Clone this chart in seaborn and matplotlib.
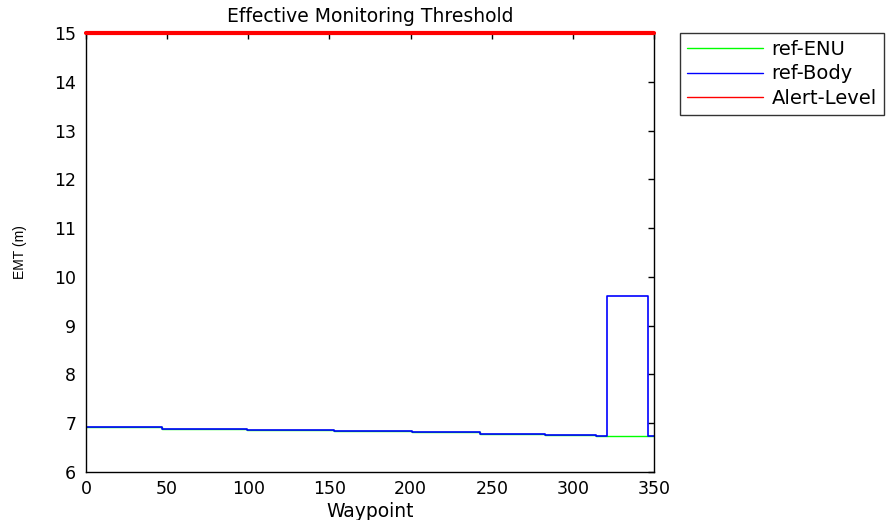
import numpy as np
import pandas as pd
import seaborn as sns
import matplotlib.pyplot as plt
from matplotlib.lines import Line2D

# step edges (waypoint) and EMT levels
edges_enu = [0, 47, 99, 153, 201, 243, 283, 314, 321, 350]
levels_enu = [6.91, 6.88, 6.855, 6.83, 6.81, 6.78, 6.76, 6.735, 6.735, 6.735]
edges_body = [0, 47, 99, 153, 201, 243, 283, 314, 321, 346, 350]
levels_body = [6.91, 6.88, 6.855, 6.83, 6.81, 6.78, 6.76, 6.735, 9.61, 6.735, 6.735]
alert_x = [0, 350]
alert_y = [15, 15]

enu = pd.DataFrame({'wp': edges_enu, 'emt': levels_enu})
body = pd.DataFrame({'wp': edges_body, 'emt': levels_body})
alert = pd.DataFrame({'wp': alert_x, 'emt': alert_y})

sns.set_style('white')
plt.rcParams['font.family'] = ['DejaVu Sans']
plt.rcParams['text.color'] = 'black'
plt.rcParams['axes.labelcolor'] = 'black'

fig = plt.figure(figsize=(8.96, 5.2), dpi=100)
ax = fig.add_axes([0.096, 0.093, 0.634, 0.843])

sns.lineplot(data=enu, x='wp', y='emt', ax=ax, color='#00ff00', lw=1,
             drawstyle='steps-post', estimator=None)
sns.lineplot(data=body, x='wp', y='emt', ax=ax, color='#0000ff', lw=1.2,
             drawstyle='steps-post', estimator=None)
sns.lineplot(data=alert, x='wp', y='emt', ax=ax, color='#ff0000', lw=3,
             estimator=None, clip_on=False, zorder=5)

ax.set_xlim(0, 350)
ax.set_ylim(6, 15)
ax.set_xticks(np.arange(0, 351, 50))
ax.set_yticks(np.arange(6, 16, 1))
ax.tick_params(direction='in', top=True, right=True, length=4, width=1,
               labelsize=12.5, colors='black')
ax.tick_params(axis='y', pad=7)
ax.tick_params(axis='x', pad=6)
for s in ax.spines.values():
    s.set_color('black')
    s.set_linewidth(1)
ax.set_title('Effective Monitoring Threshold', fontsize=13.5, pad=8)
ax.set_xlabel('Waypoint', fontsize=13.5, labelpad=3)
ax.set_ylabel('EMT (m)', fontsize=10, labelpad=20,
              family=['Liberation Sans', 'DejaVu Sans'])

handles = [Line2D([], [], color='#00ff00', lw=1),
           Line2D([], [], color='#0000ff', lw=1),
           Line2D([], [], color='#ff0000', lw=1)]
leg = fig.legend(handles, ['ref-ENU', 'ref-Body', 'Alert-Level'],
                 loc='upper left', bbox_to_anchor=(0.759, 0.937),
                 fontsize=14, frameon=True, fancybox=False,
                 handlelength=3.9, handletextpad=0.45, borderpad=0.35,
                 borderaxespad=0, labelspacing=0.3)
leg.get_frame().set_edgecolor('black')
leg.get_frame().set_linewidth(1)

fig.savefig('out.png', dpi=100)
